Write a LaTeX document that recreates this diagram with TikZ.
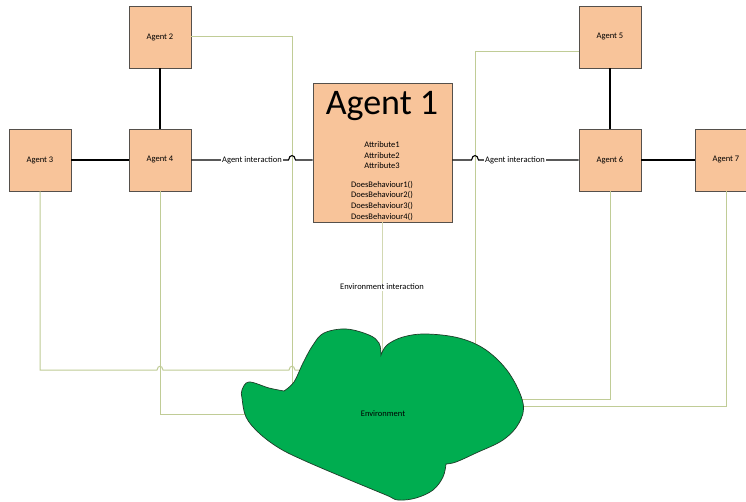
\documentclass[tikz,border=0pt]{standalone}
\usepackage{fontspec}
\setmainfont{Carlito}
\usetikzlibrary{calc}
\definecolor{agentfill}{RGB}{248,196,154}
\definecolor{agentedge}{RGB}{85,80,75}
\definecolor{envgreen}{RGB}{0,173,80}
\definecolor{envedge}{RGB}{30,60,40}
\definecolor{envline}{RGB}{192,204,150}
\definecolor{envlineA}{RGB}{210,216,178}
\begin{document}
\begin{tikzpicture}[x=1pt,y=-1pt,
  agent/.style={draw=agentedge, line width=0.9pt, fill=agentfill, minimum size=62pt,
    inner sep=0pt, font=\fontsize{8.5}{10}\selectfont},
  bigagent/.style={agent, minimum size=139pt},
  tie/.style={line width=1.4pt, draw=black},
  envlink/.style={line width=1pt, draw=envline},
  lbl/.style={fill=white, inner sep=1pt, font=\fontsize{8.5}{10}\selectfont}]
\fill[white] (0,0) rectangle (746,502);
\useasboundingbox (0,0) rectangle (746,502);

% agents
\node[agent] (a2) at (160,37) {Agent 2};
\node[agent] (a3) at (40,160) {Agent 3};
\node[agent] (a4) at (160,160) {Agent 4};
\node[agent] (a5) at (610,37) {Agent 5};
\node[agent] (a6) at (610,160) {Agent 6};
\node[agent] (a7) at (726,160) {Agent 7};
\node[bigagent] (a1) at (382.5,152.5) {};
\node[anchor=base, inner sep=0pt, font=\fontsize{36}{36}\selectfont] (a1title) at (382,115) {Agent 1};
\node[align=center, inner sep=0pt, font=\fontsize{8.5}{10.6}\selectfont] (a1body) at (382,181)
  {Attribute1\\Attribute2\\Attribute3\\[8pt]DoesBehaviour1()\\DoesBehaviour2()\\DoesBehaviour3()\\DoesBehaviour4()};

% corners and ends of the environment links
\coordinate (k2) at (292,37);
\coordinate (k5) at (475,52);
\coordinate (e2) at (292,388);
\coordinate (e3) at (306,370);
\coordinate (e4) at (258,414);
\coordinate (e1) at (382,362);
\coordinate (e5) at (475,354);
\coordinate (e6) at (512,399);
\coordinate (e7) at (512,406);

% environment links (drawn under the environment)
\draw[envlink] (a2.east) -- (k2) -- (e2);
\draw[envlink] (a3.south) |- ($(a4.south |- e3)+(-3,0)$)
  .. controls +(0.8,-5) and +(-0.8,-5) .. ($(a4.south |- e3)+(3,0)$)
  -- ($(k2 |- e3)+(-3,0)$)
  .. controls +(0.8,-5) and +(-0.8,-5) .. ($(k2 |- e3)+(3,0)$) -- (e3);
\draw[envlink] (a4.south) |- (e4);
\draw[envlink, draw=envlineA] (a1.south) -- (a1.south |- e1);
\draw[envlink] ([yshift=-15pt]a5.west) -- (k5) -- (e5);
\draw[envlink] (a6.south) |- (e6);
\draw[envlink] (a7.south) |- (e7);

% agent ties
\draw[tie] (a2) -- (a4);
\draw[tie] (a3) -- (a4);
\draw[tie] (a5) -- (a6);
\draw[tie] (a6) -- (a7);

% agent interaction links with hops over the environment links
\draw[tie, line width=1.1pt] (a4.east) -- ($(k2 |- a4.east)+(-3.5,0)$)
  .. controls +(1,-6) and +(-1,-6) .. ($(k2 |- a4.east)+(3.5,0)$) -- (a1.west |- a4.east);
\draw[tie, line width=1.1pt] (a1.east |- a6.west) -- ($(k5 |- a6.west)+(-3.5,0)$)
  .. controls +(1,-6) and +(-1,-6) .. ($(k5 |- a6.west)+(3.5,0)$) -- (a6.west);
\node[lbl] (lblL) at (252,160) {Agent interaction};
\node[lbl] (lblR) at (515,160) {Agent interaction};
\node[lbl] (lblE) at (382,287) {Environment interaction};

% environment cloud
\filldraw[fill=envgreen, draw=envedge, line width=0.7pt]
  plot[smooth, tension=0.6] coordinates {(284,391) (269,388) (249,382) (242,390) (242,398)
    (246,417) (259,433) (279,448) (303,460) (345,478) (386,495) (398,500) (416,498)
    (433,490) (443,477) (446,464)}
  -- plot[smooth, tension=0.6] coordinates {(446,464) (456,462) (476,453) (503,440)
    (519,423) (523,403) (509,373) (486,350) (459,338) (426,334) (403,337) (387,345) (381,355)}
  -- plot[smooth, tension=0.6] coordinates {(381,355) (379,343) (369,335) (346,329)
    (324,333) (313,345) (303,363) (294,382) (284,391)}
  -- cycle;
\node[inner sep=0pt, font=\fontsize{8.5}{10}\selectfont] (env) at (383,414) {Environment};
\end{tikzpicture}
\end{document}
